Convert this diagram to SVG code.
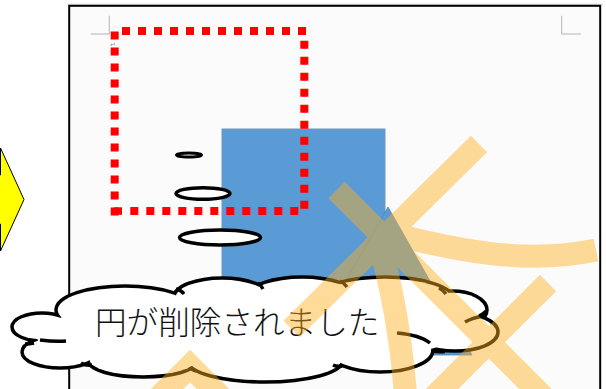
<svg xmlns="http://www.w3.org/2000/svg" xmlns:xlink="http://www.w3.org/1999/xlink" width="606" height="389" viewBox="0 0 606 389">
<style>
.crop{stroke:#b4b4b4;stroke-width:1;fill:none}
.red{stroke:#ff0000;stroke-width:8;stroke-dasharray:8 8;fill:none}
.bubble{fill:#ffffff;stroke:#000000;stroke-width:3.5}
.tick{fill:none;stroke:#000000;stroke-width:3.5}
.kome{fill:none;stroke:#ffb020;stroke-width:23;stroke-linejoin:miter}
.label{font-family:"Noto Sans CJK JP","Noto Sans",sans-serif;font-size:31.6px;font-weight:300;fill:#111111}
</style>
<defs>
<g id="lobes">
<ellipse cx="42" cy="327" rx="28.25" ry="12.25"/>
<ellipse cx="125" cy="310" rx="67.25" ry="22.25"/>
<ellipse cx="222" cy="298" rx="46.75" ry="18.25"/>
<ellipse cx="302" cy="297" rx="52.25" ry="18.25"/>
<ellipse cx="385" cy="300" rx="67.25" ry="21.25"/>
<ellipse cx="452" cy="310" rx="33.25" ry="17.25"/>
<ellipse cx="455" cy="332" rx="41.25" ry="17.25"/>
<ellipse cx="380" cy="350" rx="51.25" ry="20.25"/>
<ellipse cx="265" cy="360" rx="76.25" ry="20.25"/>
<ellipse cx="143" cy="360" rx="53.25" ry="15.25"/>
<ellipse cx="60" cy="352" rx="36.25" ry="14.25"/>
</g>
</defs>
<rect x="0" y="0" width="606" height="389" fill="#ffffff"/>
<g id="arrow">
<polygon points="-30,175 0.5,175 0.5,148 24,199.5 0.5,251 0.5,224 -30,224" fill="#ffff00" stroke="#000000" stroke-width="1"/>
</g>
<g id="page">
<line x1="67" y1="4.2" x2="603" y2="4.2" stroke="#d0d0d0" stroke-width="1"/>
<rect x="69.2" y="5.8" width="531" height="400" fill="#fbfbfb" stroke="#000000" stroke-width="2"/>
<path class="crop" d="M109.3,15.7V34H90.7"/>
<path class="crop" d="M561.7,15.7V34H581"/>
<text x="110" y="47" font-family="DejaVu Sans,sans-serif" font-size="7" fill="#9a9a9a">↵</text>
</g>
<g id="blueRect">
<rect x="222" y="129" width="163" height="226" fill="#5b9bd5" stroke="#7197c0" stroke-width="1"/>
</g>
<g id="blueTriangle">
<polygon points="388,207 472,355 304,355" fill="#5b9bd5" stroke="#4f87ba" stroke-width="0.8"/>
</g>
<g id="redFrame">
<line class="red" x1="122" y1="31" x2="306" y2="31"/>
<line class="red" x1="304.3" y1="40.7" x2="304.3" y2="208.7"/>
<line class="red" x1="130.3" y1="211" x2="298.3" y2="211"/>
<line class="red" x1="114.7" y1="31.5" x2="114.7" y2="215.5"/>
<rect x="114" y="207.3" width="8" height="7.5" fill="#ff0000"/>
</g>
<g id="thoughtBubbles">
<ellipse class="bubble" cx="189" cy="155" rx="12.5" ry="2" style="stroke-width:3"/>
<ellipse class="bubble" cx="203" cy="193.5" rx="27" ry="5.8"/>
<ellipse class="bubble" cx="220" cy="237.5" rx="40.5" ry="7.5"/>
</g>
<g id="cloud">
<use xlink:href="#lobes" href="#lobes" fill="#ffffff" stroke="#000000" stroke-width="7"/>
<use xlink:href="#lobes" href="#lobes" fill="#ffffff" stroke="none"/>
<polygon points="60,320 70,300 430,296 470,315 480,335 420,352 330,362 200,365 100,362 40,348 35,330" fill="#ffffff"/>
<path class="tick" d="M176,289 Q181,290 184,294"/>
<path class="tick" d="M258,283 Q261,285 263,289"/>
<path class="tick" d="M340,281 Q344,283 347,287"/>
<path class="tick" d="M439,288 Q443,290 446,294"/>
<path class="tick" d="M486,311 Q484,314 479,316"/>
<path class="tick" d="M465,322 Q474,317 485,316"/>
<path class="tick" d="M397,333 Q420,335 430,343"/>
<path class="tick" d="M445,351.5 Q438,352 431,351"/>
<path class="tick" d="M342,366 Q337,367 333,365"/>
<path class="tick" d="M196,371 Q192,370.5 190,367"/>
<path class="tick" d="M92,365 Q86,366 81,363"/>
<path class="tick" d="M40,340 Q55,342 66,341"/>
<path class="tick" d="M34,343 Q30,344 25,344"/>
<text class="label" x="95" y="333.5">円が削除されました</text>
</g>
<g id="komeMark" opacity="0.45">
<path class="kome" d="M291.5,329 L479,144"/>
<path class="kome" d="M336.5,190 L570,423.5"/>
<path class="kome" d="M548,283 L410,421"/>
<path class="kome" d="M392,234 C455,250 525,265 596,250"/>
<path class="kome" d="M376,235 Q398,300 406,400"/>
<polyline class="kome" points="148,408 190,366 232,408"/>
</g>
</svg>
